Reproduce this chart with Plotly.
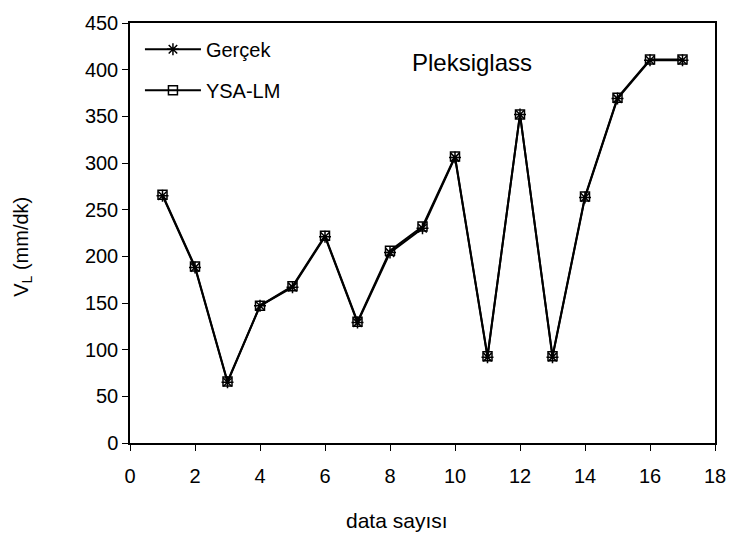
import plotly.graph_objects as go

x_data = list(range(1, 18))
gercek = [265, 188, 65, 147, 167, 221, 129, 204, 230, 306, 92, 352, 92, 263, 369, 410, 410]
ysa_lm = [266, 189, 66, 147, 168, 222, 130, 206, 232, 307, 93, 352, 93, 264, 370, 411, 411]

x_ticks = list(range(0, 19, 2))
y_ticks = list(range(0, 451, 50))

font_family = "Liberation Sans, Arial, sans-serif"

fig = go.Figure()
fig.add_trace(go.Scatter(
    x=x_data, y=gercek, name="Gerçek", mode="lines+markers", legendgroup="g1",
    line=dict(color="black", width=2),
    marker=dict(symbol="asterisk-open", size=10, color="black", line=dict(color="black", width=1.5)),
))
fig.add_trace(go.Scatter(
    x=x_data, y=ysa_lm, name="YSA-LM", mode="lines+markers", legendgroup="g2",
    line=dict(color="black", width=2),
    marker=dict(symbol="square-open", size=9, color="black", line=dict(color="black", width=1.5)),
))

fig.update_layout(
    width=738, height=538,
    margin=dict(l=130, r=17, t=17, b=95),
    paper_bgcolor="white", plot_bgcolor="white",
    font=dict(family=font_family, size=20, color="black"),
    showlegend=True,
    legend=dict(x=0.017, y=0.984, xanchor="left", yanchor="top",
                bgcolor="rgba(0,0,0,0)", font=dict(size=20), itemwidth=56,
                tracegroupgap=12, traceorder="grouped"),
    xaxis=dict(range=[0, 18], tickvals=x_ticks, showgrid=False, zeroline=False,
               showline=True, mirror=True, linecolor="black", linewidth=1.5,
               ticks="outside", ticklen=6, tickcolor="black", tickwidth=1,
               tickfont=dict(size=20), ticklabelstandoff=8),
    yaxis=dict(range=[0, 450], tickvals=y_ticks, showgrid=False, zeroline=False,
               showline=True, mirror=True, linecolor="black", linewidth=1.5,
               ticks="outside", ticklen=6, tickcolor="black", tickwidth=1,
               tickfont=dict(size=20)),
    annotations=[
        dict(x=10.51, y=408, xref="x", yref="y", text="Pleksiglass",
             showarrow=False, font=dict(size=24)),
        dict(x=0.457, y=-0.1855, xref="paper", yref="paper", text="data sayısı",
             showarrow=False, xanchor="center", yanchor="middle", font=dict(size=21)),
        dict(x=-0.184, y=0.468, xref="paper", yref="paper", text="V<sub>L</sub> (mm/dk)",
             textangle=-90, showarrow=False, xanchor="center", yanchor="middle",
             font=dict(size=20)),
    ],
)

fig.write_html("out.html", config={"displayModeBar": False},
               post_script="document.body.style.margin='0';document.body.style.padding='0';")
